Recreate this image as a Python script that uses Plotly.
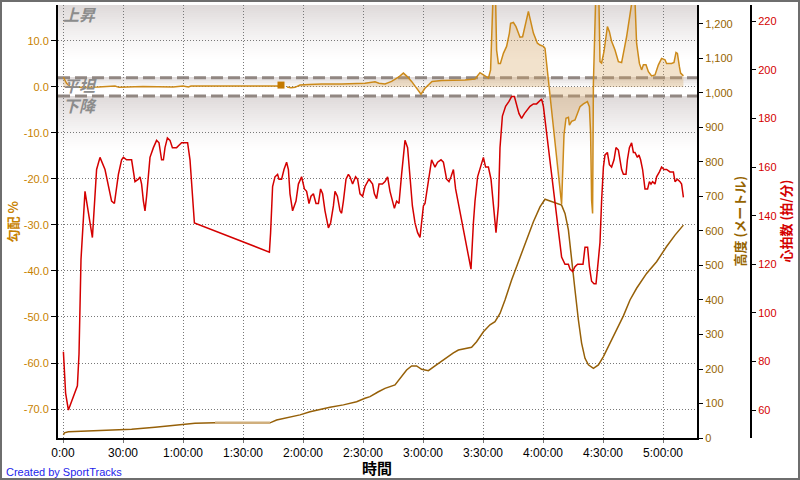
import plotly.graph_objects as go

# ---------------- data ----------------
time_hr = [0.2, 1.0, 1.3, 2.7, 7.2, 8.0, 9.0, 11.0, 14.7, 16.8, 18.5, 21.0, 22.7, 24.3, 25.7, 26.3,
           27.7, 29.3, 30.2, 31.8, 34.3, 36.0, 37.7, 38.5, 39.3, 40.2, 41.0, 41.8, 43.5, 45.2, 46.8,
           48.0, 49.3, 50.2, 51.0, 52.2, 53.5, 54.7, 56.8, 58.0, 59.3, 61.0, 62.3, 63.5, 64.7, 65.7,
           103.2, 103.8, 104.8, 106.0, 107.3, 108.0, 109.3, 110.5, 111.8, 112.7, 113.5, 114.8, 116.5,
           117.7, 119.3, 120.7, 121.8, 123.0, 124.0, 125.2, 126.5, 127.7, 128.8, 129.8, 131.0, 132.7,
           133.8, 135.2, 136.0, 137.2, 138.5, 139.3, 140.2, 141.5, 142.7, 143.5, 144.8, 146.3, 147.3,
           148.5, 149.8, 151.0, 153.0, 154.8, 155.7, 156.8, 158.0, 159.7, 161.0, 162.3, 163.5, 164.7,
           165.7, 166.8, 168.0, 169.3, 171.0, 172.3, 173.5, 174.7, 176.0, 177.3, 178.5, 179.3, 180.2,
           181.0, 182.3, 184.3, 186.0, 187.3, 189.0, 190.2, 191.8, 193.0, 194.0, 195.2, 196.3, 204.0,
           205.2, 206.0, 207.3, 209.0, 210.2, 211.3, 212.7, 214.0, 215.2, 216.5, 217.7, 218.5, 219.7,
           221.3, 223.0, 224.3, 225.7, 226.8, 228.0, 229.3, 230.7, 233.5, 235.2, 236.8, 238.2, 239.3,
           240.2, 249.3, 251.0, 252.7, 253.5, 254.8, 256.0, 257.3, 258.8, 260.0, 261.0, 262.3, 263.2,
           264.3, 265.5, 266.5, 267.7, 268.5, 269.3, 270.2, 271.0, 272.2, 273.2, 274.3, 275.5, 276.5,
           277.7, 278.5, 279.3, 280.2, 281.5, 282.2, 283.2, 284.3, 285.2, 286.0, 287.2, 288.0, 288.8,
           289.8, 290.5, 291.0, 292.3, 293.2, 294.0, 294.8, 296.0, 296.8, 298.2, 299.3, 300.5, 301.8,
           303.5, 305.2, 306.0, 307.2, 308.5, 309.3, 309.8, 310.2]
heart_rate = [84, 73, 67, 60, 70, 83, 122, 150, 131, 159, 164, 159, 152, 146, 145, 149,
              157, 163, 164, 163, 163, 154, 155, 156, 153, 146, 142, 148, 164, 168, 171,
              170, 163, 163, 168, 172, 171, 168, 168, 169, 170, 170, 170, 163, 149, 137,
              125, 133, 152, 156, 157, 155, 155, 159, 162, 159, 149, 142, 146,
              153, 156, 151, 150, 145, 148, 149, 145, 145, 151, 149, 142, 135,
              137, 144, 150, 148, 142, 141, 146, 155, 157, 156, 153, 156, 155,
              149, 148, 152, 155, 153, 149, 147, 153, 153, 154, 156, 150, 146,
              143, 146, 145, 157, 171, 168, 156, 144, 137, 133, 131, 138, 144,
              145, 153, 163, 160, 162, 163, 162, 155, 154, 156, 159, 151, 118,
              137, 146, 156, 161, 164, 160, 160, 155, 144, 133, 144, 168, 181,
              185, 187, 189, 189, 186, 182, 180, 182, 185, 186, 186, 187, 188,
              185, 123, 120, 120, 118, 117, 119, 120, 120, 120, 127, 127, 119,
              113, 112, 112, 122, 129, 146, 160, 165, 166, 161, 160, 163, 168,
              167, 163, 159, 157, 157, 163, 168, 170, 166, 166, 164, 165, 163,
              159, 155, 151, 151, 154, 153, 154, 153, 156, 158, 160, 159, 159,
              158, 158, 154, 155, 154, 153, 150, 147.5]

time_alt = [0.2, 0.7, 2.7, 12.7, 22.7, 34.3, 46.0, 52.7, 59.3, 66.0, 76.0, 103.5, 106.8, 113.5,
            118.5, 123.5, 128.5, 133.5, 140.2, 146.8, 151.0, 153.5, 157.7, 161.0, 166.0, 169.3,
            171.8, 174.3, 176.8, 179.3, 182.7, 186.0, 191.0, 195.2, 197.7, 204.3, 206.8, 210.2,
            213.5, 216.0, 218.5, 221.0, 224.3, 228.5, 231.8, 235.2, 238.5, 241.0, 249.3, 251.0,
            252.7, 254.3, 256.0, 257.7, 259.3, 261.0, 262.7, 265.2, 267.7, 270.2, 273.5, 276.8,
            280.2, 283.5, 286.8, 291.8, 296.8, 301.8, 306.0, 310.2]
altitude = [9, 15, 18, 20, 21, 25, 31, 35, 41, 43, 44, 44, 52, 60,
            67, 76, 83, 89, 96, 105, 115, 120, 134, 144, 154, 178,
            197, 209, 209, 199, 195, 209, 231, 247, 255, 263, 279, 308,
            328, 337, 361, 400, 458, 521, 572, 627, 670, 692, 675, 651,
            603, 526, 429, 342, 275, 231, 212, 202, 212, 236, 275, 313,
            354, 400, 434, 477, 511, 555, 588, 617]
alt_gap_start, alt_gap_end = 76.0, 103.5

time_grad = [0.2, 1.8, 3.5, 6.0, 17.7, 26.0, 28.0, 40.0, 55.0, 60.0, 62.7, 64.0, 107.7, None,
             112.0, 114.0, 116.0, 118.5, 122.7, 129.3, 139.3, 145.0, 151.0, 156.0, 158.0, 161.0,
             164.3, 167.7, 170.2, 172.0, 174.3, 176.5, 179.0, 181.0, 184.5, 189.3, 196.0, 201.0,
             206.0, 208.5, 210.2, 212.7, 213.8, 214.8, 215.8, 216.8, 217.7, 218.7, 220.2, 221.8,
             223.2, 223.8, 225.2, 226.5, 228.5, 229.8, 231.0, 232.7, 233.5, 235.2, 237.2, 238.5,
             240.2, 241.0, 249.3, 250.5, 251.5, 252.7, 253.2, 254.3, 256.0, 256.8, 258.5, 260.2,
             262.2, 263.2, 263.8, 264.3, 264.8, 265.2, 266.0, 267.0, 267.7, 268.5, 269.3, 270.5,
             272.2, 273.2, 274.3, 276.0, 277.7, 279.3, 281.8, 283.8, 284.8, 285.7, 286.8, 288.2,
             289.3, 290.2, 291.5, 292.7, 294.3, 296.0, 297.7, 299.3, 301.0, 301.8, 304.3, 305.5,
             306.5, 307.2, 308.2, 308.8, 310.2]
gradient = [2.1, 0.8, 0.1, -0.1, 0.0, 0.2, -0.1, 0.1, 0.0, 0.2, 0.0, 0.2, 0.2, None,
            0.0, -0.2, -0.1, 0.4, 0.5, 0.65, 0.65, 0.7, 0.8, 1.1, 0.8, 0.65,
            1.2, 2.1, 3.0, 2.3, 1.2, -0.1, -1.6, -0.3, 1.2, 1.4, 1.4, 1.5,
            1.7, 3.1, 2.6, 1.9, 3.7, 25.0, 30.0, 8.0, 5.1, 5.1, 7.3, 8.8,
            11.7, 13.8, 14.0, 13.1, 10.8, 10.9, 13.1, 16.4, 14.9, 11.7, 9.5, 9.1,
            8.8, 8.4, -25.5, -10.4, -6.8, -6.6, -8.3, -7.5, -7.2, -6.1, -4.3, -3.7,
            -3.2, -4.3, -10.1, -24.6, -27.5, 0.8, 15.3, 30.0, 25.0, 5.5, 5.2, 7.7,
            13.1, 12.0, 9.9, 8.0, 5.5, 5.3, 10.9, 16.0, 19.0, 22.0, 9.5, 5.1,
            3.7, 4.8, 4.8, 3.3, 2.4, 2.6, 4.8, 6.2, 5.9, 5.1, 5.1, 5.3,
            7.5, 7.3, 4.4, 3.0, 2.4]
grad_point_t = [109.0]
grad_point_v = [0.4]

x_tick_minutes = [0, 30, 60, 90, 120, 150, 180, 210, 240, 270, 300]
x_tick_labels = ["0:00", "30:00", "1:00:00", "1:30:00", "2:00:00", "2:30:00",
                 "3:00:00", "3:30:00", "4:00:00", "4:30:00", "5:00:00"]
grad_ticks = [10, 0, -10, -20, -30, -40, -50, -60, -70]
grad_tick_labels = ["10.0", "0.0", "-10.0", "-20.0", "-30.0", "-40.0", "-50.0", "-60.0", "-70.0"]
alt_ticks = [0, 100, 200, 300, 400, 500, 600, 700, 800, 900, 1000, 1100, 1200]
hr_ticks = [60, 80, 100, 120, 140, 160, 180, 200, 220]
flat_band = [2.0, -2.0]

# ---------------- geometry / style ----------------
W, H = 800, 480
ML, MR, MT, MB = 58, 49, 5, 42
PW, PH = W - ML - MR, H - MT - MB
XDOM = (697 - ML) / PW
G_RANGE = [-76.3, 17.8]

def px_to_paper_x(px):
    return (px - ML) / PW

def px_to_paper_y(py):
    return (H - MB - py) / PH

def py_to_grad(py):
    return G_RANGE[1] - (py - MT) * (G_RANGE[1] - G_RANGE[0]) / PH

C_GRAD = "#CC8A1A"
C_GRAD_TXT = "rgb(200,130,0)"
C_ALT = "#966008"
C_ALT_TXT = "rgb(150,100,0)"
C_HR = "#D40000"
GRID = "rgb(120,120,120)"

fig = go.Figure()

fig.add_trace(go.Scatter(x=time_grad, y=gradient, mode="lines", yaxis="y",
                         line=dict(color=C_GRAD, width=1.5), fill="tozeroy",
                         fillcolor="rgba(215,165,95,0.32)", connectgaps=False,
                         hoverinfo="skip", showlegend=False))
fig.add_trace(go.Scatter(x=grad_point_t, y=grad_point_v, mode="markers", yaxis="y",
                         marker=dict(symbol="square", size=7, color="#C47A00"),
                         hoverinfo="skip", showlegend=False))

fig.add_trace(go.Scatter(x=time_alt, y=altitude, mode="lines", yaxis="y2",
                         line=dict(color=C_ALT, width=1.5), hoverinfo="skip", showlegend=False))
gap_t = [t for t in time_alt if alt_gap_start <= t <= alt_gap_end]
gap_a = [a for t, a in zip(time_alt, altitude) if alt_gap_start <= t <= alt_gap_end]
fig.add_trace(go.Scatter(x=gap_t, y=gap_a, mode="lines", yaxis="y2",
                         line=dict(color="rgb(208,175,125)", width=2.5), hoverinfo="skip",
                         showlegend=False))

fig.add_trace(go.Scatter(x=time_hr, y=heart_rate, mode="lines", yaxis="y3",
                         line=dict(color=C_HR, width=1.5), hoverinfo="skip", showlegend=False))

# ---------------- background zone shading ----------------
shapes = []
grey = (222, 217, 217)

def zone(top_px, bot_px, step=2.0, power=1.3):
    n = int((bot_px - top_px) / step)
    for i in range(n):
        p0 = top_px + i * step
        p1 = p0 + step
        s = (i + 0.5) / n
        f = (1 - s) ** power
        c = tuple(int(round(255 + (g - 255) * f)) for g in grey)
        shapes.append(dict(type="rect", xref="paper", yref="y", layer="below",
                           x0=0, x1=XDOM, y0=py_to_grad(p1), y1=py_to_grad(p0),
                           fillcolor="rgb(%d,%d,%d)" % c, line=dict(width=0)))

zone(5, 62)
zone(77, 89)
zone(96, 152)

for lvl in flat_band:
    shapes.append(dict(type="line", xref="paper", yref="y", layer="between",
                       x0=0, x1=XDOM, y0=lvl, y1=lvl,
                       line=dict(color="rgb(145,135,130)", width=3, dash="12px,5px")))

# outer frame
shapes.append(dict(type="rect", xref="paper", yref="paper", layer="above",
                   x0=px_to_paper_x(1), x1=px_to_paper_x(799),
                   y0=px_to_paper_y(479), y1=px_to_paper_y(1),
                   line=dict(color="rgb(110,110,110)", width=2)))

# ---------------- annotations ----------------
ann = []
zone_font = dict(family="Noto Sans CJK JP", size=16, color="rgb(140,140,140)",
                 style="italic", weight="bold")
for txt, py in [("上昇", 14), ("平坦", 84.5), ("下降", 104.5)]:
    ann.append(dict(text=txt, xref="paper", yref="paper", x=px_to_paper_x(61),
                    y=px_to_paper_y(py), xanchor="left", yanchor="middle",
                    showarrow=False, font=zone_font))

title_font = dict(family="Noto Sans CJK JP", size=13, weight="bold")
ann.append(dict(text="勾配 %", xref="paper", yref="paper", x=px_to_paper_x(12),
                y=0.5, textangle=-90, showarrow=False, xanchor="center", yanchor="middle",
                font=dict(title_font, color=C_GRAD_TXT)))
ann.append(dict(text="高度 (メートル)", xref="paper", yref="paper", x=px_to_paper_x(739),
                y=0.5, textangle=-90, showarrow=False, xanchor="center", yanchor="middle",
                font=dict(title_font, color=C_ALT_TXT)))
ann.append(dict(text="心拍数 (拍/分)", xref="paper", yref="paper", x=px_to_paper_x(785),
                y=0.5, textangle=-90, showarrow=False, xanchor="center", yanchor="middle",
                font=dict(title_font, color=C_HR)))
ann.append(dict(text="時間", xref="paper", yref="paper", x=px_to_paper_x(377),
                y=px_to_paper_y(467), showarrow=False, xanchor="center", yanchor="middle",
                font=dict(family="Noto Sans CJK JP", size=15, weight="bold", color="black")))
ann.append(dict(text="Created by SportTracks", xref="paper", yref="paper", x=px_to_paper_x(4),
                y=px_to_paper_y(472), showarrow=False, xanchor="left", yanchor="middle",
                font=dict(family="Liberation Sans, Arial", size=11, color="rgb(30,30,235)")))

tick_font = dict(family="Liberation Sans, Arial", size=11)

fig.update_layout(
    width=W, height=H,
    margin=dict(l=ML, r=MR, t=MT, b=MB, pad=0),
    paper_bgcolor="white", plot_bgcolor="white",
    showlegend=False,
    shapes=shapes, annotations=ann,
    xaxis=dict(domain=[0, XDOM], range=[-2.5, 317], tickmode="array",
               tickvals=x_tick_minutes, ticktext=x_tick_labels,
               tickfont=dict(family="Liberation Sans Narrow, Liberation Sans, Arial", size=12,
                             color="black"),
               showline=True, linecolor="black", linewidth=2, ticks="outside", ticklen=3,
               tickcolor=GRID,
               showgrid=True, gridcolor=GRID, griddash="1px,2px", gridwidth=1,
               zeroline=False, automargin=False, anchor="y"),
    yaxis=dict(range=G_RANGE, tickmode="array", tickvals=grad_ticks, ticktext=grad_tick_labels,
               tickfont=dict(tick_font, color=C_GRAD_TXT), showline=True, linecolor="black",
               linewidth=2, ticks="outside", ticklen=5, tickcolor="black",
               showgrid=True, gridcolor=GRID, griddash="1px,2px", gridwidth=1,
               zeroline=False, automargin=False, anchor="x"),
    yaxis2=dict(range=[0, 1255], overlaying="y", side="right", anchor="x",
                tickmode="array", tickvals=alt_ticks, tickformat=",d",
                tickfont=dict(tick_font, color=C_ALT_TXT), showline=True, linecolor="black",
                linewidth=2, ticks="outside", ticklen=4, tickcolor="black",
                showgrid=False, zeroline=False, automargin=False),
    yaxis3=dict(range=[48.5, 226.7], overlaying="y", side="right", anchor="free", position=1.0,
                tickmode="array", tickvals=hr_ticks,
                tickfont=dict(tick_font, color=C_HR), showline=True, linecolor="black",
                linewidth=2, ticks="outside", ticklen=4, tickcolor="black",
                showgrid=False, zeroline=False, automargin=False),
)

fig.write_html("out.html",
               config={"displayModeBar": False},
               post_script="document.body.style.margin='0';document.body.style.padding='0';")
